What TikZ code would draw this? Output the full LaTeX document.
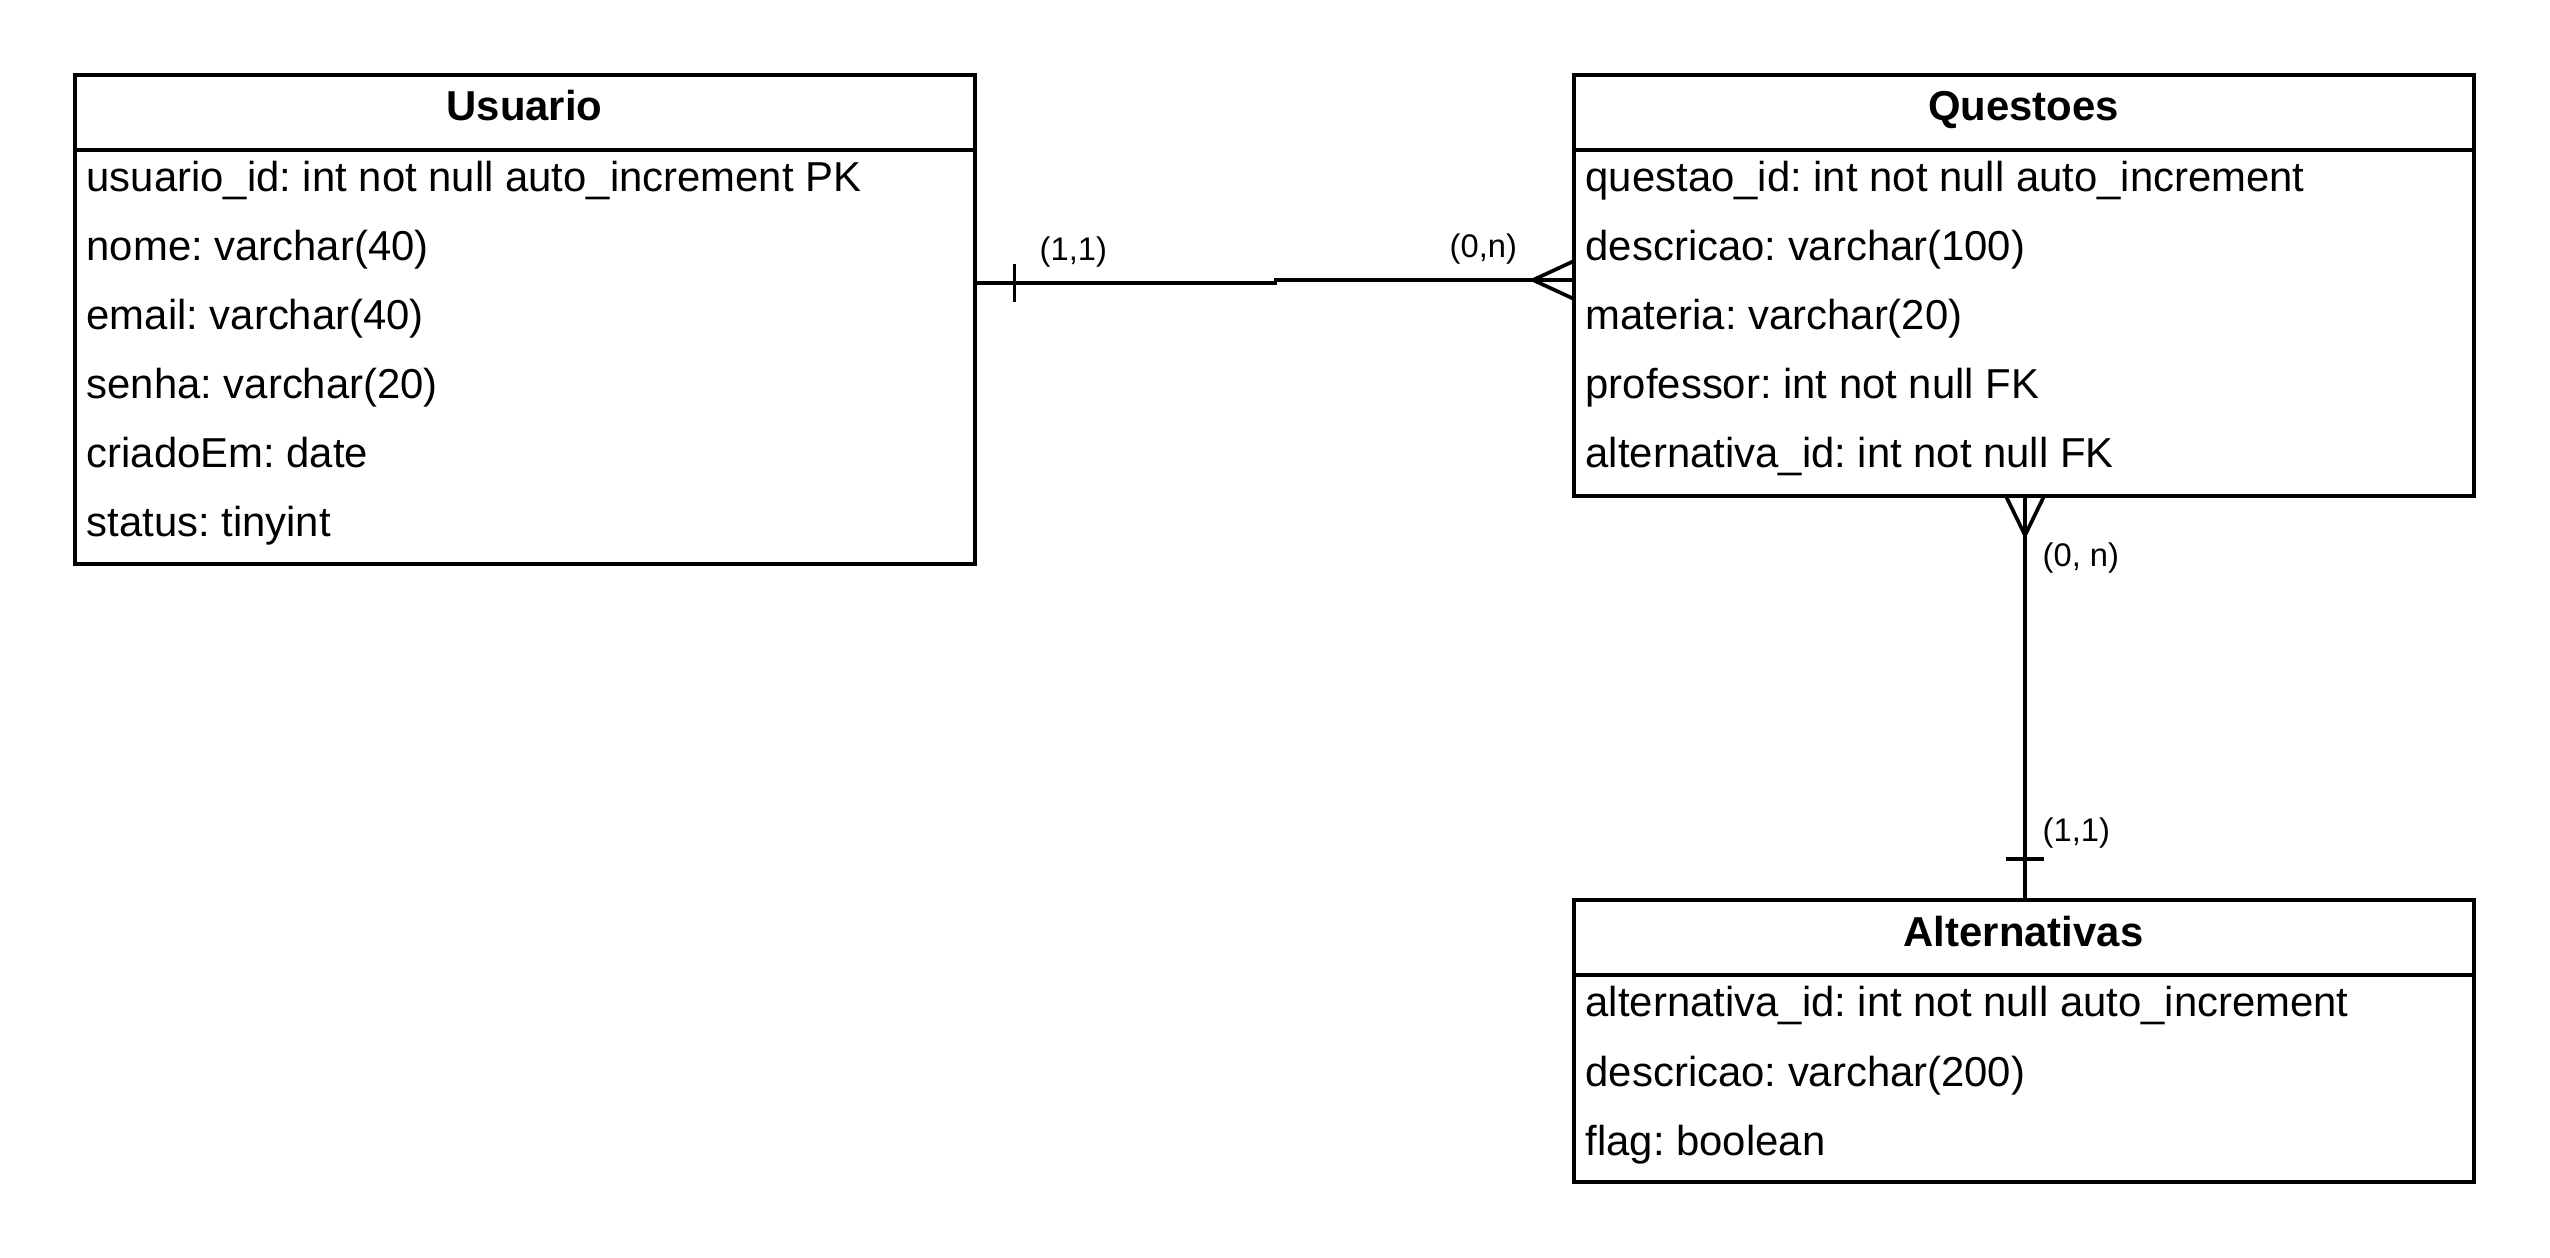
\documentclass[tikz,border=0pt]{standalone}
\usepackage{fontspec}
\setmainfont{Liberation Sans}
\usetikzlibrary{calc}
\frenchspacing
\begin{document}
\begin{tikzpicture}[x=0.01cm,y=-0.01cm,
  entity/.style={draw,line width=1.15pt,outer sep=0pt,inner sep=0pt,anchor=north west},
  sepline/.style={line width=1.15pt},
  conn/.style={line width=1.05pt},
  title/.style={inner sep=0pt,anchor=base,font=\fontsize{11.9pt}{14pt}\selectfont\bfseries},
  row/.style={inner sep=0pt,anchor=base west,font=\fontsize{11.9pt}{14pt}\selectfont},
  card/.style={inner sep=0pt,anchor=base west,font=\fontsize{9.3pt}{11pt}\selectfont}]
\useasboundingbox[fill=white] (0,0) rectangle (2550,1258);

% Usuario
\node[entity,minimum width=8.99cm,minimum height=4.89cm] (usuario) at (75,75) {};
\draw[sepline] ($(usuario.north west)+(0,75)$) -- ($(usuario.north east)+(0,75)$);
\node[title] (usuarioT) at (524.5,121) {Usuario};
\node[row] (u1) at (86,192) {usuario\_id: int not null auto\_increment PK};
\node[row] (u2) at (86,261) {nome: varchar(40)};
\node[row] (u3) at (86,330) {email: varchar(40)};
\node[row] (u4) at (86,399) {senha: varchar(20)};
\node[row] (u5) at (86,468) {criadoEm: date};
\node[row] (u6) at (86,537) {status: tinyint};

% Questoes
\node[entity,minimum width=8.99cm,minimum height=4.21cm] (questoes) at (1574,75) {};
\draw[sepline] ($(questoes.north west)+(0,75)$) -- ($(questoes.north east)+(0,75)$);
\node[title] (questoesT) at (2023.5,121) {Questoes};
\node[row] (q1) at (1585,192) {questao\_id: int not null auto\_increment};
\node[row] (q2) at (1585,261) {descricao: varchar(100)};
\node[row] (q3) at (1585,330) {materia: varchar(20)};
\node[row] (q4) at (1585,399) {professor: int not null FK};
\node[row] (q5) at (1585,468) {alternativa\_id: int not null FK};

% Alternativas
\node[entity,minimum width=8.99cm,minimum height=2.82cm] (altern) at (1574,900) {};
\draw[sepline] ($(altern.north west)+(0,75)$) -- ($(altern.north east)+(0,75)$);
\node[title] (alternT) at (2023.5,946) {Alternativas};
\node[row] (a1) at (1585,1017) {alternativa\_id: int not null auto\_increment};
\node[row] (a2) at (1585,1086) {descricao: varchar(200)};
\node[row] (a3) at (1585,1155) {flag: boolean};

% connector Usuario -- Questoes
\coordinate (uout) at ($(usuario.north east)+(0,208)$);
\coordinate (qin) at ($(questoes.north west)+(0,205)$);
\draw[conn] (uout) -- ++(301,0) |- (qin);
\draw[conn] ($(uout)+(40,-19)$) -- ($(uout)+(40,19)$);
\draw[conn] ($(qin)+(0,-19)$) -- ($(qin)+(-41,0)$) -- ($(qin)+(0,19)$);
\node[card] (c11a) at (1039,261) {(1,1)};
\node[card] (c0na) at (1449,258) {(0,n)};

% connector Questoes -- Alternativas
\coordinate (qout) at ($(questoes.south west)+(451,0)$);
\coordinate (ain) at ($(altern.north west)+(451,0)$);
\draw[conn] (qout) -- (ain);
\draw[conn] ($(qout)+(-19,0)$) -- ($(qout)+(0,39)$) -- ($(qout)+(19,0)$);
\draw[conn] ($(ain)+(-19,-41)$) -- ($(ain)+(19,-41)$);
\node[card] (c0nb) at (2042,567) {(0, n)};
\node[card] (c11b) at (2042,842) {(1,1)};
\end{tikzpicture}
\end{document}
